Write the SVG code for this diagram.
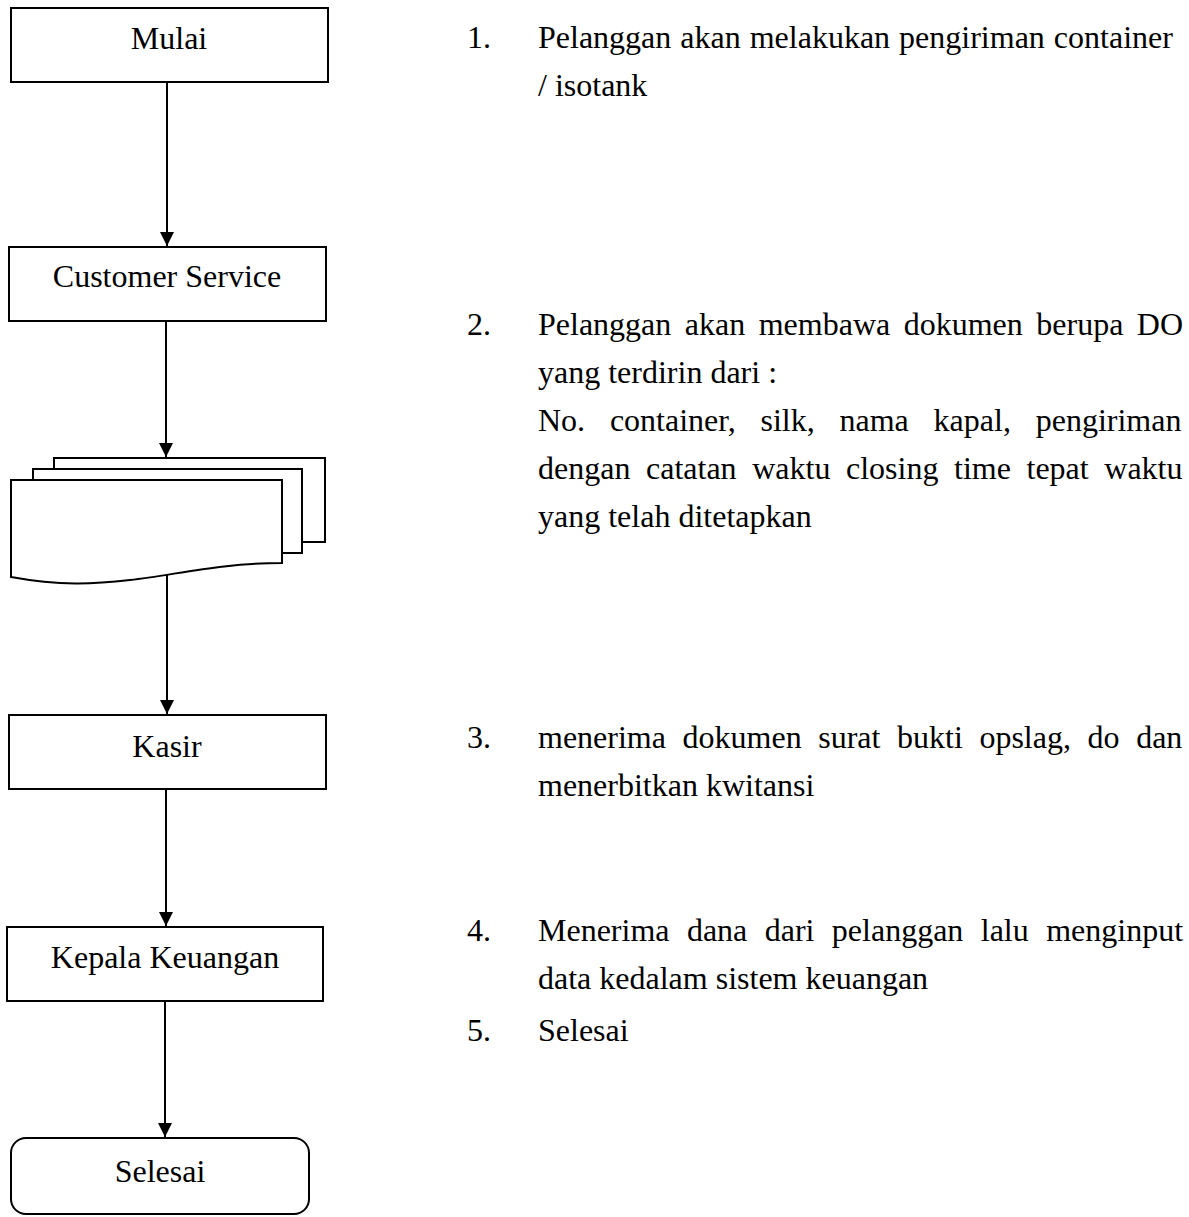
<svg xmlns="http://www.w3.org/2000/svg" width="1189" height="1217" viewBox="0 0 1189 1217">
<defs>
<marker id="ah" markerUnits="userSpaceOnUse" markerWidth="16" markerHeight="16" viewBox="0 0 16 16" refX="14" refY="8" orient="auto">
<path d="M0,1 L14,8 L0,15 Z" fill="#000"/>
</marker>
</defs>
<style>
.box{fill:#fff;stroke:#000;stroke-width:2}
.lbl{font-family:"Liberation Serif","Times New Roman",serif;font-size:32px;fill:#000;text-anchor:middle}
.txt{font-family:"Liberation Serif","Times New Roman",serif;font-size:32px;fill:#000}
.conn{stroke:#000;stroke-width:2;fill:none;marker-end:url(#ah)}
</style>
<rect width="1189" height="1217" fill="#fff"/>
<g id="connectors">
<line class="conn" x1="167" y1="82" x2="167" y2="246"/>
<line class="conn" x1="166" y1="321" x2="166" y2="457"/>
<line class="conn" x1="167" y1="574" x2="167" y2="714"/>
<line class="conn" x1="166" y1="789" x2="166" y2="926"/>
<line class="conn" x1="165" y1="1001" x2="165" y2="1137"/>
</g>
<g id="mulai">
<rect class="box" x="11" y="8" width="317" height="74"/>
<text class="lbl" x="169" y="49">Mulai</text>
</g>
<g id="customer-service">
<rect class="box" x="9" y="247" width="317" height="74"/>
<text class="lbl" x="167" y="287">Customer Service</text>
</g>
<g id="dokumen">
<rect class="box" x="54" y="458" width="271" height="84"/>
<rect class="box" x="33" y="469" width="269" height="84"/>
<path class="box" d="M11,480 H282 V563 C220,563 175,575 130,580 C95,584 60,586 11,577 Z"/>
</g>
<g id="kasir">
<rect class="box" x="9" y="715" width="317" height="74"/>
<text class="lbl" x="167" y="757">Kasir</text>
</g>
<g id="kepala-keuangan">
<rect class="box" x="7" y="927" width="316" height="74"/>
<text class="lbl" x="165" y="968">Kepala Keuangan</text>
</g>
<g id="selesai">
<rect class="box" x="11" y="1138" width="298" height="76" rx="15" ry="15"/>
<text class="lbl" x="160" y="1182">Selesai</text>
</g>
<g id="keterangan">
<text class="txt" x="467" y="48">1.</text>
<text class="txt" x="538" y="48" word-spacing="1">Pelanggan akan melakukan pengiriman container</text>
<text class="txt" x="538" y="96">/ isotank</text>
<text class="txt" x="467" y="335">2.</text>
<text class="txt" x="538" y="335" word-spacing="5.5">Pelanggan akan membawa dokumen berupa DO</text>
<text class="txt" x="538" y="383">yang terdirin dari :</text>
<text class="txt" x="538" y="431" word-spacing="16.8">No. container, silk, nama kapal, pengiriman</text>
<text class="txt" x="538" y="479" word-spacing="7.6">dengan catatan waktu closing time tepat waktu</text>
<text class="txt" x="538" y="527">yang telah ditetapkan</text>
<text class="txt" x="467" y="748">3.</text>
<text class="txt" x="538" y="748" word-spacing="8.6">menerima dokumen surat bukti opslag, do dan</text>
<text class="txt" x="538" y="796">menerbitkan kwitansi</text>
<text class="txt" x="467" y="941">4.</text>
<text class="txt" x="538" y="941" word-spacing="9.4">Menerima dana dari pelanggan lalu menginput</text>
<text class="txt" x="538" y="989">data kedalam sistem keuangan</text>
<text class="txt" x="467" y="1041">5.</text>
<text class="txt" x="538" y="1041">Selesai</text>
</g>
</svg>
